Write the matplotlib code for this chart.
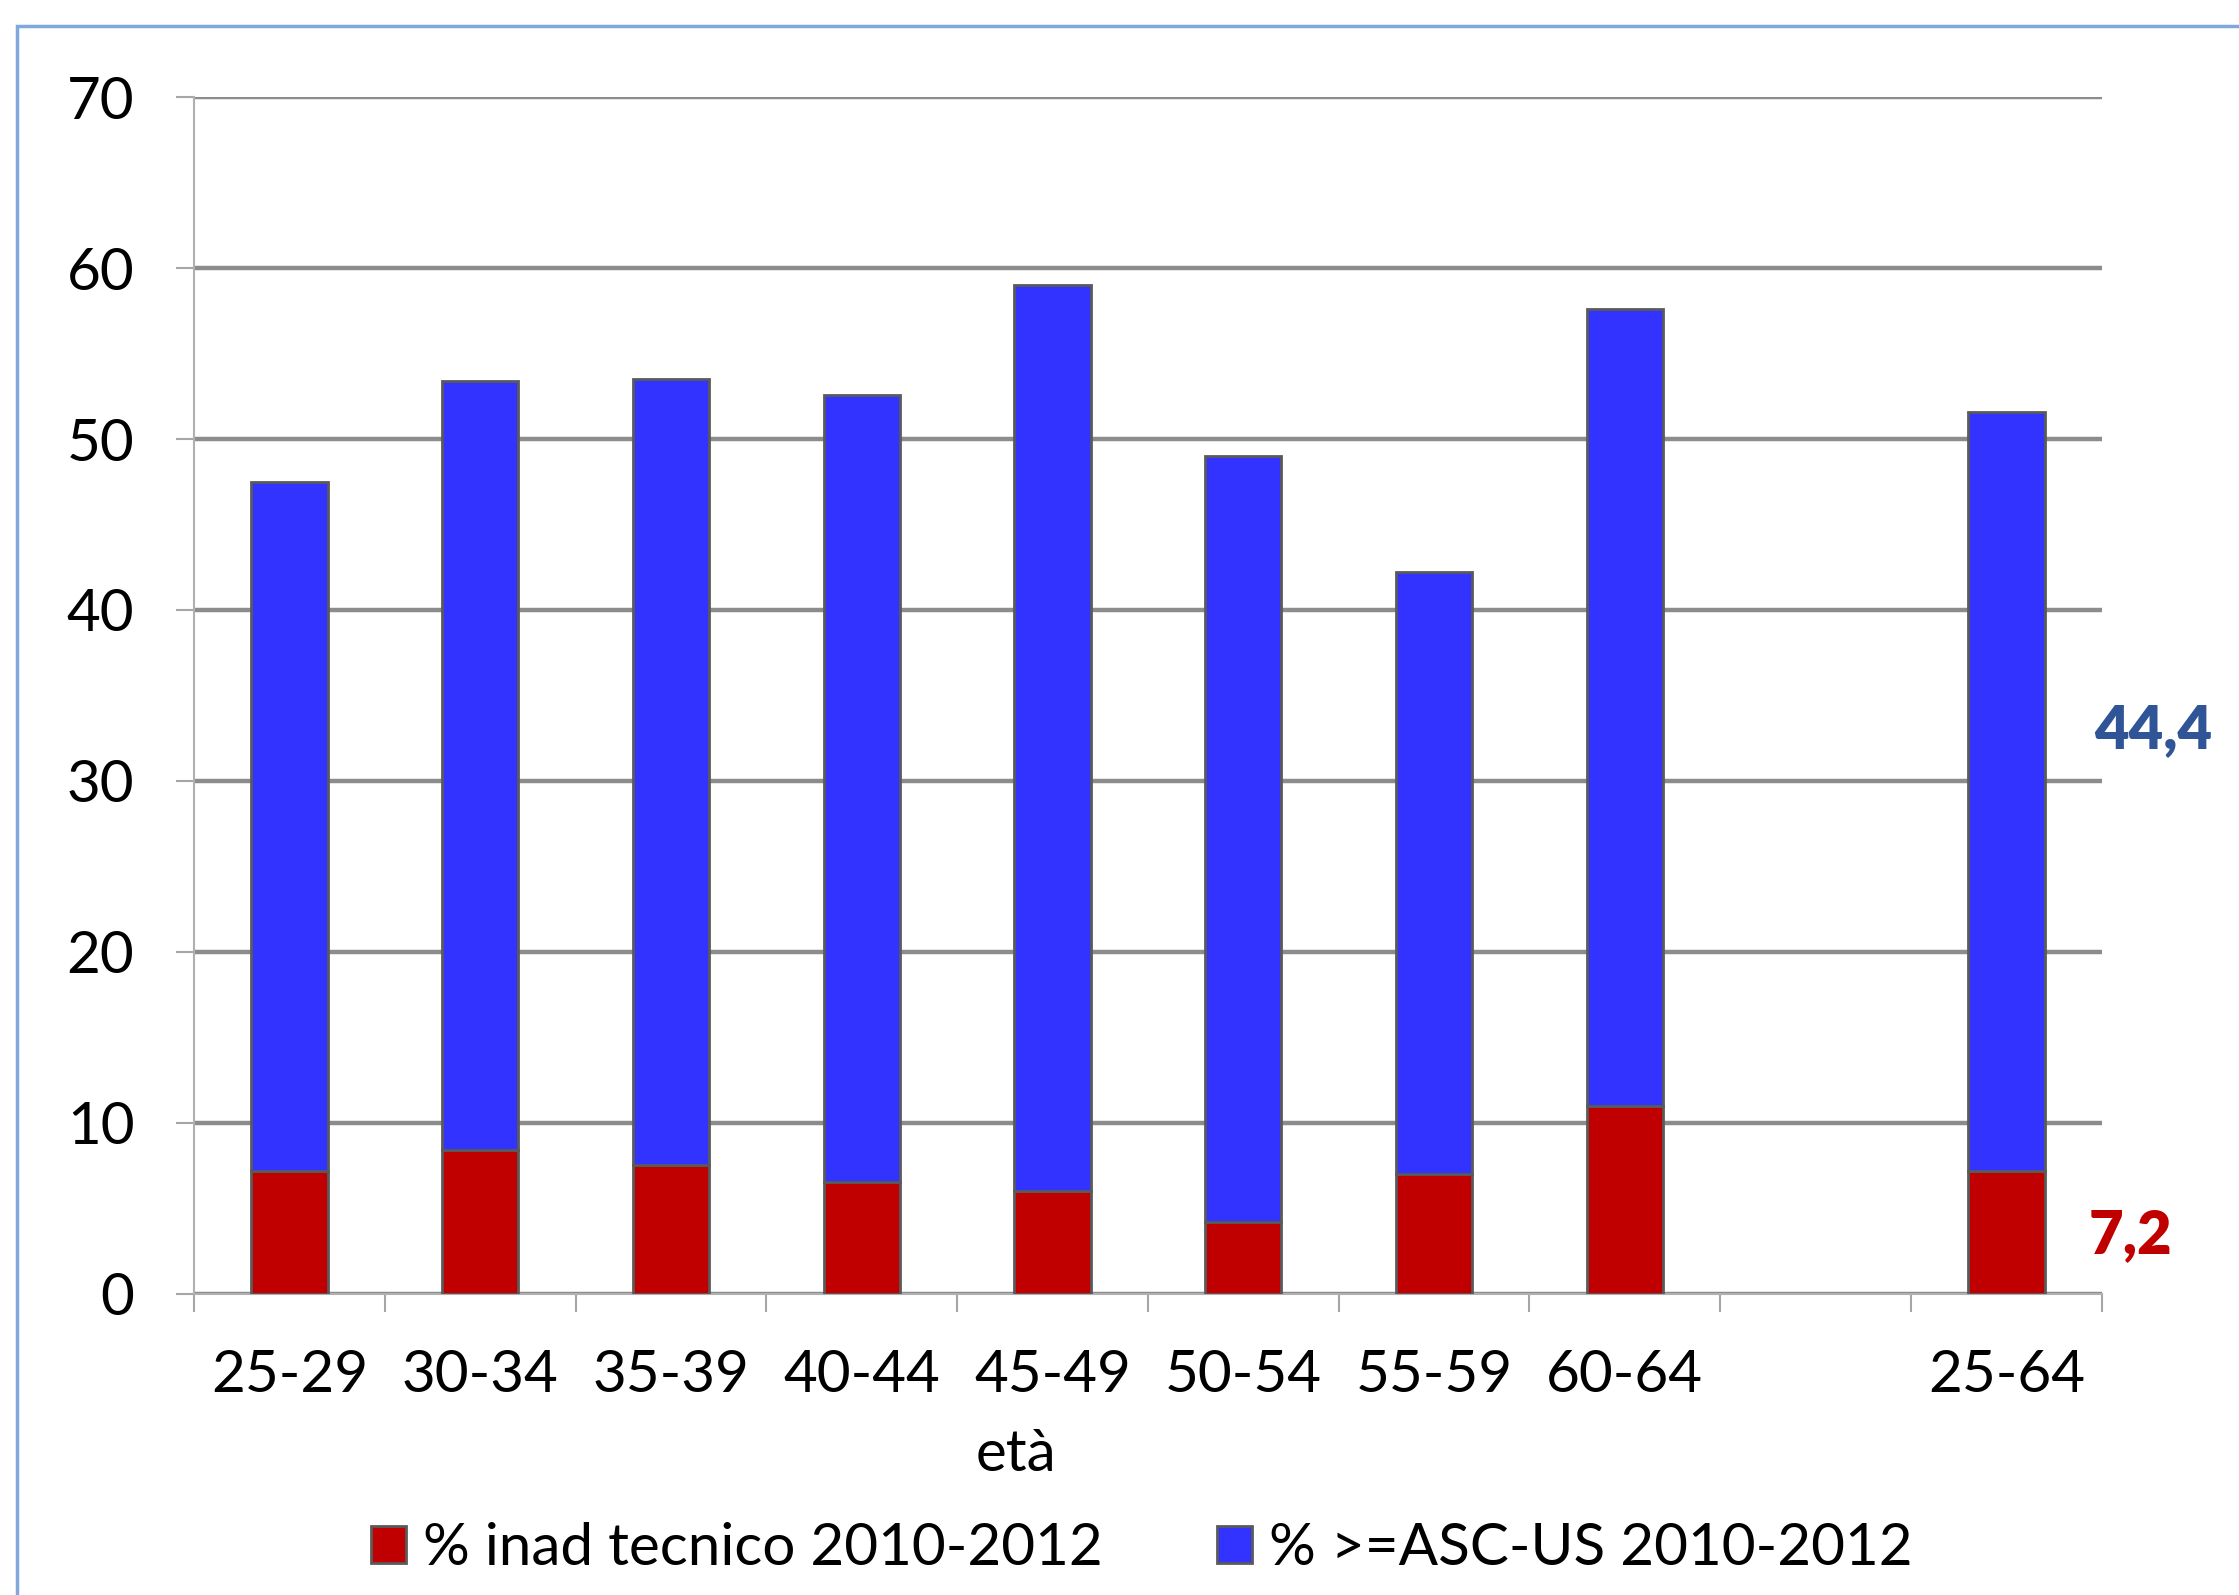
import matplotlib.pyplot as plt
import matplotlib.patches as mpatches
import numpy as np

plt.rcParams['font.family'] = ['Lato', 'DejaVu Sans']

# dati
categorie = ['25-29', '30-34', '35-39', '40-44', '45-49', '50-54', '55-59', '60-64', '', '25-64']
inad_tecnico = [7.2, 8.4, 7.5, 6.5, 6.0, 4.2, 7.0, 11.0, np.nan, 7.2]
asc_us = [40.3, 45.0, 46.0, 46.1, 53.0, 44.8, 35.2, 46.6, np.nan, 44.4]

rosso = '#C00000'
blu = '#3333FF'
bordo = '#5a5a5a'

fig = plt.figure(figsize=(22.39, 15.95), dpi=100)
ax = fig.add_axes([0.0867, 0.189, 0.852, 0.750])

x = np.arange(len(categorie))
ax.bar(x, inad_tecnico, width=0.4, color=rosso, edgecolor=bordo, linewidth=2, zorder=3)
ax.bar(x, asc_us, width=0.4, bottom=inad_tecnico, color=blu, edgecolor=bordo, linewidth=2, zorder=3)

ax.set_xlim(-0.5, len(categorie) - 0.5)
ax.set_ylim(0, 70)
ax.set_yticks(range(0, 71, 10))
ax.yaxis.grid(True, color='#8c8c8c', linewidth=3.2, zorder=0)
ax.set_axisbelow(True)

ax.set_xticks(x)
ax.set_xticklabels(categorie, fontsize=42)
ax.set_xticks(np.arange(-0.5, len(categorie)), minor=True)
ax.tick_params(axis='x', which='major', length=0, pad=40)
ax.tick_params(axis='x', which='minor', length=13, width=1.5, color='#a6a6a6', direction='out')
ax.tick_params(axis='y', length=13, width=1.5, color='#a6a6a6', pad=30, labelsize=42)

for s in ['top', 'right']:
    ax.spines[s].set_visible(False)
for s in ['left', 'bottom']:
    ax.spines[s].set_color('#b0b0b0')
    ax.spines[s].set_linewidth(1.5)

ax.set_xlabel('età', fontsize=42)
ax.xaxis.set_label_coords(0.431, -0.112)

# etichette per il totale 25-64
ax.text(len(categorie) - 0.54, inad_tecnico[-1] + asc_us[-1] * 0.58,
        f'{asc_us[-1]:.1f}'.replace('.', ','), color='#2F5597', fontsize=43,
        fontweight='heavy', ha='left', va='center', clip_on=False)
ax.text(len(categorie) - 0.57, inad_tecnico[-1] * 0.47,
        f'{inad_tecnico[-1]:.1f}'.replace('.', ','), color=rosso, fontsize=43,
        fontweight='heavy', ha='left', va='center', clip_on=False)

handles = [mpatches.Patch(facecolor=rosso, edgecolor=bordo, linewidth=2, label='% inad tecnico 2010-2012'),
           mpatches.Patch(facecolor=blu, edgecolor=bordo, linewidth=2, label='% >=ASC-US 2010-2012')]
fig.legend(handles=handles, loc='center', bbox_to_anchor=(0.51, 0.029), ncol=2, frameon=False,
           fontsize=42, handlelength=0.6, handleheight=0.6, handletextpad=0.3, columnspacing=1.95)

# cornice
fig.patches.append(mpatches.Rectangle((0.0076, -0.1), 1.1, 1.084, transform=fig.transFigure,
                                      fill=False, edgecolor='#7fa9dc', linewidth=2.5))

fig.savefig('out.png', dpi=100)
